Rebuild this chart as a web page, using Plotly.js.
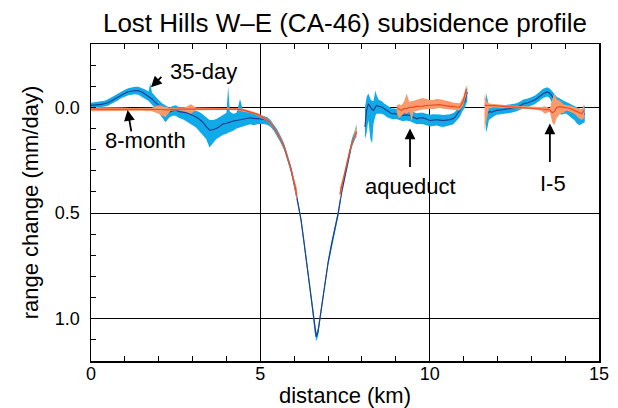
<!DOCTYPE html>
<html>
<head>
<meta charset="utf-8">
<script src="https://cdn.plot.ly/plotly-3.0.1.min.js"></script>
<style>html,body{margin:0;padding:0;background:#fff;}#chart{width:618px;height:408px;}</style>
</head>
<body>
<div id="chart"></div>
<script>
// ---- 35-day series (null separates segments) ----
const blueKm  = [0.0,0.1,0.2,0.3,0.4,0.5,0.6,0.7,0.8,0.9,1.0,1.1,1.2,1.3,1.4,1.5,1.6,1.7,1.75,1.8,1.9,2.0,2.1,2.2,2.3,2.4,2.5,2.6,2.7,2.8,2.9,3.0,3.1,3.2,3.3,3.4,3.5,3.6,3.7,3.8,3.9,4.0,4.05,4.1,4.2,4.3,4.4,4.5,4.6,4.7,4.8,4.9,5.0,5.1,5.2,5.3,5.4,5.5,5.6,5.7,5.8,5.9,6.0,6.1,6.2,6.3,6.4,6.5,6.6,6.65,6.7,6.8,6.9,7.0,7.1,7.2,7.3,7.4,7.5,7.6,7.7,7.8,7.84,
  null,
  8.09,8.14,8.19,8.25,8.30,8.34,8.40,8.43,8.50,8.58,8.65,8.73,8.80,8.88,8.95,9.03,9.10,9.22,9.30,9.42,9.50,9.62,9.70,9.81,9.90,10.01,10.10,10.21,10.30,10.40,10.50,10.60,10.70,10.75,10.82,10.89,10.96,11.04,11.11,
  null,
  11.66,11.70,11.75,11.83,11.90,11.98,12.10,12.17,12.30,12.37,12.50,12.57,12.70,12.76,12.90,12.96,13.10,13.16,13.30,13.35,13.47,13.54,13.60,13.68,13.75,13.82,13.90,13.97,14.04,14.12,14.19,14.27,14.34,14.42,14.49,14.58];
const blueMid = [-0.010,-0.011,-0.012,-0.014,-0.018,-0.022,-0.030,-0.040,-0.050,-0.060,-0.067,-0.074,-0.078,-0.080,-0.079,-0.073,-0.062,-0.052,-0.048,-0.040,-0.024,-0.010,0.004,0.018,0.022,0.016,0.012,0.020,0.022,0.025,0.030,0.036,0.045,0.056,0.070,0.090,0.108,0.105,0.100,0.090,0.078,0.075,0.072,0.070,0.065,0.062,0.058,0.054,0.050,0.049,0.052,0.054,0.055,0.056,0.062,0.075,0.095,0.120,0.150,0.185,0.235,0.290,0.360,0.440,0.530,0.650,0.780,0.900,1.040,1.085,1.065,0.950,0.840,0.735,0.650,0.580,0.500,0.400,0.320,0.243,0.170,0.130,0.117,
  null,
  0.093,0.010,-0.017,0.000,0.010,0.014,-0.005,-0.009,-0.005,-0.002,0.005,0.014,0.020,0.030,0.028,0.030,0.035,0.038,0.035,0.038,0.045,0.054,0.050,0.050,0.055,0.062,0.060,0.058,0.060,0.062,0.060,0.058,0.052,0.046,0.030,0.014,-0.010,-0.033,-0.073,
  null,
  0.014,0.030,0.020,0.022,0.018,0.014,0.012,0.010,0.008,0.006,0.002,0.000,-0.010,-0.017,-0.022,-0.025,-0.035,-0.041,-0.058,-0.065,-0.073,-0.068,-0.057,-0.035,-0.017,-0.012,-0.009,-0.005,0.000,0.008,0.014,0.022,0.030,0.035,0.038,0.030];
const blueTop = [-0.022,-0.024,-0.025,-0.028,-0.032,-0.038,-0.046,-0.056,-0.066,-0.076,-0.084,-0.091,-0.096,-0.098,-0.098,-0.092,-0.085,-0.075,-0.115,-0.070,-0.050,-0.035,-0.020,-0.008,0.000,-0.005,-0.010,-0.002,0.000,0.002,0.005,0.010,0.015,0.022,0.032,0.045,0.060,0.060,0.055,0.045,0.035,0.025,-0.100,0.020,0.030,0.025,-0.040,0.020,0.015,0.020,0.025,0.030,0.035,0.040,0.046,0.060,0.080,0.105,0.135,0.170,0.220,0.275,0.345,0.425,0.515,0.635,0.765,0.885,1.025,1.065,1.045,0.935,0.825,0.720,0.635,0.565,0.485,0.385,0.305,0.225,0.150,0.105,0.080,
  null,
  0.000,-0.050,-0.066,-0.040,-0.030,-0.030,-0.080,-0.060,-0.035,-0.030,-0.020,-0.010,-0.005,0.005,0.005,0.008,0.012,0.015,0.010,0.012,0.020,0.028,0.025,0.025,0.030,0.035,0.033,0.032,0.034,0.036,0.034,0.032,0.026,0.020,0.005,-0.010,-0.035,-0.060,-0.100,
  null,
  -0.070,-0.040,-0.010,0.000,-0.002,-0.005,-0.008,-0.010,-0.012,-0.014,-0.018,-0.020,-0.030,-0.037,-0.042,-0.045,-0.055,-0.062,-0.080,-0.088,-0.095,-0.090,-0.080,-0.065,-0.050,-0.045,-0.035,-0.030,-0.025,-0.018,-0.012,-0.005,0.000,0.005,0.010,-0.010];
const blueBot = [0.002,0.002,0.001,0.000,-0.004,-0.008,-0.014,-0.024,-0.034,-0.044,-0.050,-0.057,-0.060,-0.062,-0.060,-0.052,-0.040,-0.030,-0.025,-0.015,0.005,0.025,0.045,0.070,0.050,0.040,0.040,0.050,0.055,0.065,0.075,0.085,0.095,0.110,0.130,0.150,0.190,0.170,0.150,0.140,0.130,0.125,0.120,0.115,0.110,0.100,0.095,0.090,0.085,0.080,0.085,0.080,0.078,0.078,0.082,0.092,0.112,0.137,0.167,0.202,0.252,0.307,0.377,0.457,0.547,0.667,0.797,0.917,1.060,1.105,1.085,0.967,0.857,0.752,0.667,0.597,0.517,0.417,0.337,0.262,0.190,0.150,0.140,
  null,
  0.150,0.120,0.060,0.150,0.170,0.080,0.040,0.030,0.030,0.030,0.035,0.045,0.050,0.055,0.055,0.055,0.060,0.065,0.062,0.065,0.072,0.080,0.078,0.080,0.085,0.090,0.088,0.086,0.090,0.093,0.088,0.085,0.080,0.075,0.060,0.045,0.020,0.000,-0.030,
  null,
  0.120,0.100,0.060,0.050,0.042,0.035,0.032,0.030,0.028,0.026,0.022,0.020,0.010,0.003,-0.002,-0.005,-0.015,-0.020,-0.038,-0.045,-0.052,-0.045,-0.030,0.000,0.020,0.030,0.035,0.030,0.030,0.040,0.050,0.060,0.075,0.085,0.080,0.070];

// ---- 8-month series ----
const orangeKm  = [0.0,0.3,0.6,0.9,1.2,1.5,1.8,2.0,2.1,2.2,2.35,2.6,2.8,2.95,3.1,3.4,3.7,4.0,4.3,4.53,4.73,4.92,5.07,5.21,5.36,5.5,5.6,5.7,5.8,5.9,6.0,6.08,
  null,
  7.35,7.45,7.55,7.65,7.75,7.84,
  null,
  9.03,9.10,9.17,9.25,9.32,9.40,9.47,9.52,9.60,9.71,9.80,9.91,10.00,10.11,10.20,10.30,10.40,10.50,10.60,10.70,10.80,10.89,10.99,11.09,
  null,
  11.62,11.68,11.75,11.90,12.10,12.30,12.50,12.70,12.90,13.10,13.30,13.40,13.47,13.55,13.62,13.68,13.75,13.85,13.95,14.04,14.15,14.27,14.40,14.49,14.56];
const orangeMid = [0.008,0.008,0.008,0.009,0.010,0.010,0.010,0.008,0.010,0.012,0.010,0.008,0.008,0.008,0.007,0.007,0.007,0.007,0.008,0.014,0.022,0.033,0.046,0.060,0.085,0.120,0.150,0.185,0.232,0.287,0.355,0.420,
  null,
  0.410,0.335,0.265,0.200,0.150,0.115,
  null,
  0.000,0.010,0.014,0.005,0.006,0.000,0.000,0.000,-0.005,-0.004,-0.006,-0.009,-0.010,-0.009,-0.012,-0.013,-0.010,-0.009,-0.008,-0.004,-0.002,0.000,-0.030,-0.088,
  null,
  -0.010,-0.009,-0.009,-0.008,-0.006,-0.004,-0.002,0.000,0.002,0.004,0.006,0.008,0.010,0.012,0.025,0.020,0.000,-0.004,0.000,0.000,0.005,0.014,0.025,0.030,0.014];
const orangeTop = [-0.002,-0.002,0.000,0.001,0.003,0.004,0.002,-0.010,-0.005,0.000,0.004,0.002,-0.002,-0.015,0.001,0.002,0.002,0.002,0.003,0.008,0.016,0.027,0.040,0.054,0.078,0.112,0.142,0.177,0.224,0.278,0.340,0.380,
  null,
  0.380,0.325,0.255,0.190,0.140,0.085,
  null,
  -0.010,-0.015,-0.010,-0.030,-0.066,-0.025,-0.030,-0.030,-0.035,-0.040,-0.045,-0.040,-0.035,-0.035,-0.040,-0.038,-0.035,-0.030,-0.028,-0.022,-0.020,-0.020,-0.050,-0.110,
  null,
  -0.060,-0.030,-0.018,-0.015,-0.012,-0.010,-0.008,-0.006,-0.004,-0.002,-0.002,-0.005,0.000,0.004,-0.040,-0.065,-0.040,-0.030,-0.015,-0.010,-0.008,0.000,0.005,0.010,-0.015];
const orangeBot = [0.018,0.020,0.018,0.017,0.017,0.016,0.018,0.030,0.040,0.045,0.016,0.014,0.020,0.030,0.014,0.012,0.012,0.012,0.013,0.020,0.028,0.039,0.052,0.066,0.092,0.128,0.158,0.193,0.240,0.296,0.370,0.450,
  null,
  0.440,0.345,0.275,0.210,0.160,0.130,
  null,
  0.030,0.050,0.040,0.025,0.030,0.020,0.065,0.020,0.015,0.012,0.010,0.008,0.008,0.008,0.005,0.003,0.006,0.008,0.010,0.012,0.014,0.015,-0.010,-0.060,
  null,
  0.110,0.060,0.005,0.000,0.001,0.002,0.004,0.006,0.008,0.010,0.016,0.030,0.025,0.020,0.070,0.085,0.050,0.030,0.025,0.015,0.020,0.030,0.050,0.060,0.050];

// ---- axes / labels ----
const xTickVals = [0, 5, 10, 15];
const xTickText = ['0', '5', '10', '15'];
const yTickVals = [0, 0.5, 1.0];
const yTickText = ['0.0', '0.5', '1.0'];

function segments(xs, arrs) {
  const out = [];
  let cur = null;
  for (let i = 0; i < xs.length; i++) {
    if (xs[i] === null) { cur = null; continue; }
    if (!cur) { cur = {x: [], v: arrs.map(() => [])}; out.push(cur); }
    cur.x.push(xs[i]);
    arrs.forEach((a, k) => cur.v[k].push(a[i]));
  }
  return out;
}

function bandAndLine(xs, mid, top, bot, bandColor, lineColor, name) {
  const segs = segments(xs, [mid, top, bot]);
  const bands = [], lines = [];
  segs.forEach(s => {
    bands.push({
      x: s.x.concat(s.x.slice().reverse()),
      y: s.v[1].concat(s.v[2].slice().reverse()),
      type: 'scatter', mode: 'lines', fill: 'toself',
      fillcolor: bandColor, line: {width: 0, color: bandColor},
      hoverinfo: 'skip', showlegend: false, name: name + ' band'
    });
    lines.push({
      x: s.x, y: s.v[0], type: 'scatter', mode: 'lines',
      line: {color: lineColor, width: 1.2}, showlegend: false, name: name
    });
  });
  return {bands, lines};
}

const blue = bandAndLine(blueKm, blueMid, blueTop, blueBot, '#10aae8', '#213c8f', '35-day');
const orange = bandAndLine(orangeKm, orangeMid, orangeTop, orangeBot, '#f89a6c', '#ef4a23', '8-month');
const data = [].concat(blue.bands, blue.lines, orange.bands, orange.lines);

const FONT = 'Liberation Sans, Arial, Helvetica, sans-serif';
const arrowBase = {xref: 'x', yref: 'y', text: '', showarrow: true, arrowhead: 2, arrowsize: 1.2, arrowwidth: 1.8, arrowcolor: '#000', standoff: 0, startstandoff: 0};
const textBase = {xref: 'x', yref: 'y', showarrow: false, font: {family: FONT, size: 22, color: '#000'}};

const layout = {
  width: 618, height: 408,
  margin: {l: 91, r: 19, t: 44, b: 47},
  paper_bgcolor: '#fff', plot_bgcolor: '#fff',
  font: {family: FONT, color: '#000'},
  showlegend: false,
  title: {text: 'Lost Hills W\u2013E (CA-46) subsidence profile', font: {family: FONT, size: 26, color: '#000'},
          x: 0.5, xref: 'paper', xanchor: 'center', y: 0.943, yref: 'container', yanchor: 'middle'},
  xaxis: {
    range: [0, 15], tickvals: xTickVals, ticktext: xTickText,
    ticks: 'inside', ticklen: 5, tickcolor: '#000', tickwidth: 1,
    minor: {dtick: 1, tick0: 0, ticks: 'inside', ticklen: 5, tickcolor: '#000', showgrid: false},
    showgrid: true, gridcolor: '#000', gridwidth: 1, zeroline: false,
    showline: true, linecolor: '#000', linewidth: 1.5, mirror: 'ticks',
    tickfont: {family: FONT, size: 18, color: '#000'}, ticklabelstandoff: -4,
    title: {text: 'distance (km)', font: {family: FONT, size: 22, color: '#000'}, standoff: 8},
    fixedrange: true
  },
  yaxis: {
    range: [1.2, -0.3], tickvals: yTickVals, ticktext: yTickText,
    ticks: 'inside', ticklen: 5, tickcolor: '#000', tickwidth: 1,
    minor: {dtick: 0.1, tick0: 0, ticks: 'inside', ticklen: 5, tickcolor: '#000', showgrid: false},
    showgrid: true, gridcolor: '#000', gridwidth: 1, zeroline: false,
    showline: true, linecolor: '#000', linewidth: 1.5, mirror: true,
    tickfont: {family: FONT, size: 18, color: '#000'}, ticklabelstandoff: 6,
    title: {text: 'range change (mm/day)', font: {family: FONT, size: 22, color: '#000'}, standoff: 10},
    fixedrange: true
  },
  annotations: [
    Object.assign({}, arrowBase, {x: 1.77, y: -0.095, ax: 12, ay: -12}),
    Object.assign({}, textBase, {x: 3.31, y: -0.171, text: '35-day'}),
    Object.assign({}, arrowBase, {x: 1.08, y: 0.012, ax: 4, ay: 23}),
    Object.assign({}, textBase, {x: 1.62, y: 0.156, text: '8-month'}),
    Object.assign({}, arrowBase, {x: 9.42, y: 0.10, ax: 0, ay: 40}),
    Object.assign({}, textBase, {x: 9.42, y: 0.374, text: 'aqueduct'}),
    Object.assign({}, arrowBase, {x: 13.55, y: 0.076, ax: 0, ay: 40}),
    Object.assign({}, textBase, {x: 13.63, y: 0.36, text: 'I-5'})
  ]
};

Plotly.newPlot('chart', data, layout, {staticPlot: true, displayModeBar: false});
</script>
</body>
</html>
